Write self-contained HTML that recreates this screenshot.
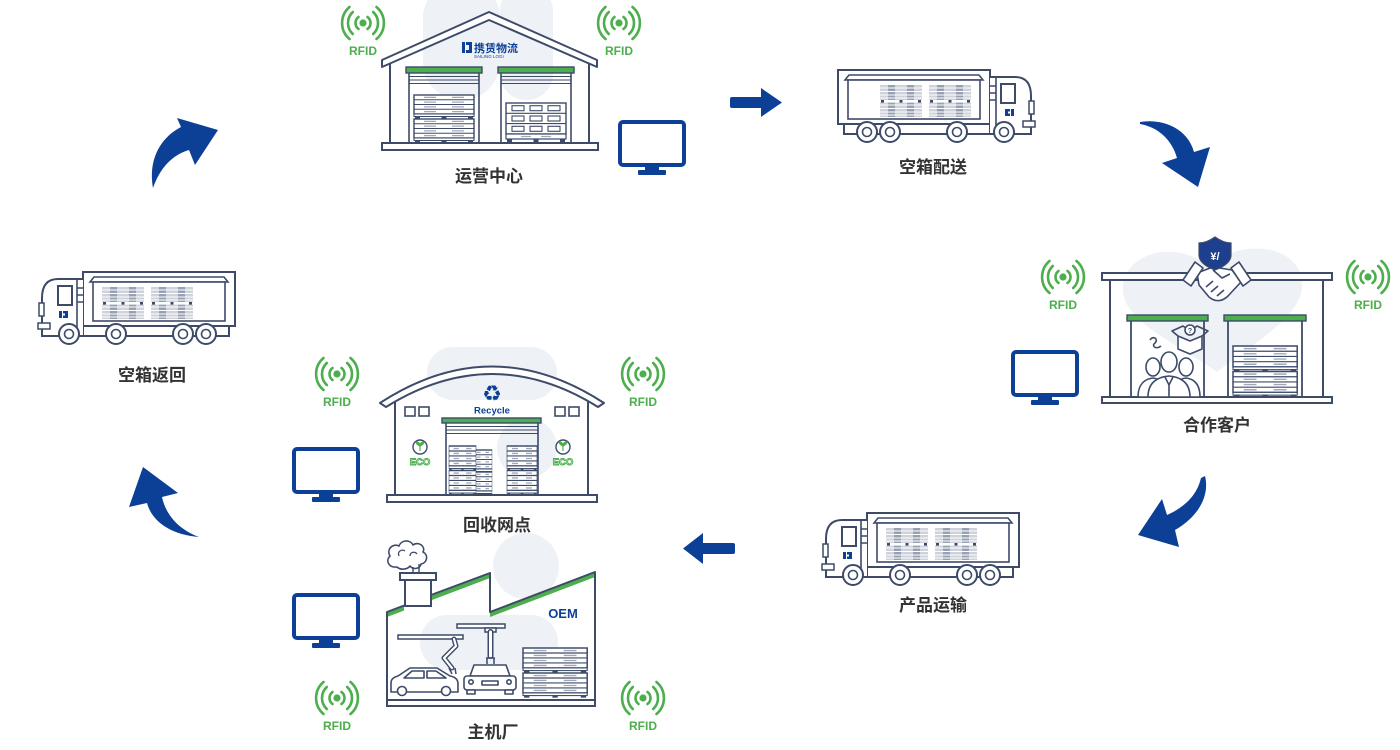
<!DOCTYPE html>
<html><head><meta charset="utf-8">
<style>
html,body{margin:0;padding:0;background:#fff;}
svg{display:block;}
.lbl{font-family:"Liberation Sans","Noto Sans CJK SC",sans-serif;font-weight:bold;font-size:17px;fill:#333;text-anchor:middle;}
.rf{font-family:"Liberation Sans",sans-serif;font-weight:bold;font-size:12px;fill:#4cae4c;text-anchor:middle;}
</style></head><body>
<svg width="1400" height="750" viewBox="0 0 1400 750" xmlns="http://www.w3.org/2000/svg">
<defs>
 <g id="rfid">
   <circle cx="0" cy="0" r="3.6" fill="#4cae4c"/>
   <g fill="none" stroke="#4cae4c" stroke-width="2.6" stroke-linecap="round">
     <path d="M-4.5,-6 A7.5,7.5 0 0 0 -4.5,6"/>
     <path d="M4.5,-6 A7.5,7.5 0 0 1 4.5,6"/>
     <path d="M-10.2,-11 A15,15 0 0 0 -10.2,11"/>
     <path d="M10.2,-11 A15,15 0 0 1 10.2,11"/>
     <path d="M-13.5,-16 A21,21 0 0 0 -13.5,16"/>
     <path d="M13.5,-16 A21,21 0 0 1 13.5,16"/>
   </g>
   <text class="rf" x="0" y="32">RFID</text>
 </g>
 <g id="mon">
   <rect x="2" y="2" width="64" height="43" rx="3" fill="#fff" stroke="#0c3f96" stroke-width="4"/>
   <rect x="27" y="46" width="14" height="5" fill="#0c3f96"/>
   <rect x="20" y="50" width="28" height="5" rx="1" fill="#0c3f96"/>
 </g>
 <g id="tp">
   <rect width="42" height="32" fill="#cdd2db"/>
   <rect x="8" width="7" height="32" fill="#97a0b2"/>
   <rect x="27" width="7" height="32" fill="#97a0b2"/>
   <path d="M0,3H42M0,6.5H42M0,10H42M0,13H42M0,20H42M0,23.5H42M0,27H42M0,30H42" stroke="#fff" stroke-width="1"/>
   <rect y="15" width="42" height="2.6" fill="#fff"/>
   <rect x="1" y="15" width="3" height="2.6" fill="#3d4b69"/>
   <rect x="19.5" y="15" width="3" height="2.6" fill="#3d4b69"/>
   <rect x="38" y="15" width="3" height="2.6" fill="#3d4b69"/>
 </g>
 <g id="truck">
   <rect x="45" y="54" width="146" height="10" fill="#fff" stroke="#3d4b69" stroke-width="2"/>
   <rect x="45" y="0" width="152" height="54" fill="#fff" stroke="#3d4b69" stroke-width="2"/>
   <path d="M52,10 L56,5 L186,5 L190,10 Z" fill="#fff" stroke="#3d4b69" stroke-width="1.6"/>
   <rect x="55" y="10" width="132" height="39" fill="#fff" stroke="#3d4b69" stroke-width="1.6"/>
   <use href="#tp" x="64" y="15"/>
   <use href="#tp" x="113" y="15"/>
   <path d="M45,7 L20,7 Q4,7 4,26 L4,64 L45,64" fill="#fff" stroke="#3d4b69" stroke-width="2"/>
   <line x1="39" y1="7" x2="39" y2="64" stroke="#3d4b69" stroke-width="1.6"/>
   <path d="M39,16H45M39,23H45M39,30H45" stroke="#3d4b69" stroke-width="1.4"/>
   <rect x="20" y="14" width="14" height="19" fill="#fff" stroke="#3d4b69" stroke-width="2"/>
   <rect x="1" y="31" width="5" height="13" fill="#fff" stroke="#3d4b69" stroke-width="1.5"/>
   <rect x="0" y="51" width="12" height="6" fill="#fff" stroke="#3d4b69" stroke-width="1.5"/>
   <g fill="#0c3f96">
     <rect x="21" y="39" width="3" height="7"/><rect x="25" y="39" width="5" height="2.5"/>
     <rect x="25" y="43.5" width="5" height="2.5"/><rect x="27" y="41" width="3" height="3"/>
   </g>
   <g fill="#fff" stroke="#3d4b69" stroke-width="2">
     <circle cx="31" cy="62" r="10"/><circle cx="78" cy="62" r="10"/>
     <circle cx="145" cy="62" r="10"/><circle cx="168" cy="62" r="10"/>
   </g>
   <g fill="#fff" stroke="#3d4b69" stroke-width="1.6">
     <circle cx="31" cy="62" r="4.5"/><circle cx="78" cy="62" r="4.5"/>
     <circle cx="145" cy="62" r="4.5"/><circle cx="168" cy="62" r="4.5"/>
   </g>
 </g>
 <g id="wp">
   <rect x="0" y="0" width="60" height="19" fill="#fff" stroke="#3d4b69" stroke-width="1.4"/>
   <path d="M0,4.75H60M0,9.5H60M0,14.25H60" stroke="#3d4b69" stroke-width="1.1"/>
   <path d="M10,2.4H22M38,2.4H50M10,7.1H22M38,7.1H50M10,11.9H22M38,11.9H50M10,16.6H22M38,16.6H50" stroke="#a0a8b8" stroke-width="1.3"/>
   <rect x="0" y="19" width="60" height="2.5" fill="#fff" stroke="#3d4b69" stroke-width="1"/>
   <rect x="1" y="21" width="5" height="2.5" fill="#3d4b69"/>
   <rect x="27.5" y="21" width="5" height="2.5" fill="#3d4b69"/>
   <rect x="54" y="21" width="5" height="2.5" fill="#3d4b69"/>
 </g>
</defs>

<!-- ================= ARROWS ================= -->
<g fill="#0c3f96">
  <path d="M153,188 C148,160 160,138 181,127 L177,118 L218,130 L195,165 L189,150 C172,155 160,168 153,188 Z"/>
  <rect x="730" y="97" width="35" height="11" rx="2"/>
  <path d="M761,88 L782,102.5 L761,117 Z"/>
  <path d="M1140,122 C1165,118 1188,130 1194,152 L1210,147 L1198,187 L1162,163 L1177,158 C1172,140 1158,127 1140,124 Z"/>
  <path d="M1205,476 C1210,496 1198,517 1175,530 L1179,547 L1138,535 L1162,499 L1167,515 C1185,507 1197,495 1201,478 Z"/>
  <rect x="700" y="543" width="35" height="11" rx="2"/>
  <path d="M703,533 L683,548.5 L703,564 Z"/>
  <path d="M147,503 C152,522 172,535 199,537 C180,530 166,516 162,497 L178,493 L143,467 L129,507 Z"/>
</g>

<!-- ================= TOP WAREHOUSE 运营中心 ================= -->
<rect x="423" y="-20" width="77" height="120" rx="38" fill="#eef1f6"/>
<rect x="500" y="-15" width="53" height="115" rx="26" fill="#eef1f6"/>
<polygon points="382,60 489,12 597,60 597,67 489,20 382,67" fill="#fff" stroke="#3d4b69" stroke-width="2" stroke-linejoin="round"/>
<g stroke="#3d4b69" stroke-width="2">
  <line x1="390" y1="64" x2="390" y2="143"/>
  <line x1="589" y1="64" x2="589" y2="143"/>
</g>
<rect x="382" y="143" width="216" height="7" fill="#fff" stroke="#3d4b69" stroke-width="2"/>
<g fill="#0c3f96">
  <rect x="462" y="42" width="3" height="11"/><rect x="466" y="42" width="6" height="3"/>
  <rect x="466" y="50" width="6" height="3"/><rect x="469" y="45" width="3" height="5"/>
</g>
<text x="474" y="52" font-family="'Noto Sans CJK SC',sans-serif" font-weight="bold" font-size="11" fill="#0c3f96">携赁物流</text>
<text x="474" y="58" font-family="'Liberation Sans',sans-serif" font-size="4.5" fill="#0c3f96">SAILING LOGI</text>
<rect x="406" y="67" width="76" height="6" fill="#4cae4c" stroke="#3d4b69" stroke-width="1.4"/>
<g stroke="#3d4b69" stroke-width="1.6">
  <line x1="409" y1="73" x2="409" y2="143"/><line x1="479" y1="73" x2="479" y2="143"/>
  <line x1="409" y1="76.5" x2="479" y2="76.5" stroke-width="1.1"/>
  <line x1="409" y1="80" x2="479" y2="80" stroke-width="1.1"/>
  <line x1="409" y1="83.5" x2="479" y2="83.5" stroke-width="1.1"/>
</g>
<use href="#wp" x="414" y="95"/>
<use href="#wp" x="414" y="119"/>
<rect x="498" y="67" width="76" height="6" fill="#4cae4c" stroke="#3d4b69" stroke-width="1.4"/>
<g stroke="#3d4b69" stroke-width="1.6">
  <line x1="501" y1="73" x2="501" y2="143"/><line x1="571" y1="73" x2="571" y2="143"/>
  <line x1="501" y1="76.5" x2="571" y2="76.5" stroke-width="1.1"/>
  <line x1="501" y1="80" x2="571" y2="80" stroke-width="1.1"/>
  <line x1="501" y1="83.5" x2="571" y2="83.5" stroke-width="1.1"/>
</g>
<g transform="translate(506,103)" stroke="#3d4b69" fill="#fff">
  <rect x="0" y="0" width="60" height="31" stroke-width="1.4"/>
  <path d="M0,10.3H60M0,20.6H60" stroke-width="1.1"/>
  <g stroke-width="1.1">
    <rect x="6" y="2.7" width="12" height="5"/><rect x="24" y="2.7" width="12" height="5"/><rect x="42" y="2.7" width="12" height="5"/>
    <rect x="6" y="13" width="12" height="5"/><rect x="24" y="13" width="12" height="5"/><rect x="42" y="13" width="12" height="5"/>
    <rect x="6" y="23.3" width="12" height="5"/><rect x="24" y="23.3" width="12" height="5"/><rect x="42" y="23.3" width="12" height="5"/>
  </g>
  <rect x="0" y="31" width="60" height="5" stroke-width="1.2"/>
  <path d="M15,33.5H25M35,33.5H45" stroke="#a0a8b8" stroke-width="1.2"/>
  <rect x="1" y="36" width="5" height="3" fill="#3d4b69" stroke="none"/>
  <rect x="27.5" y="36" width="5" height="3" fill="#3d4b69" stroke="none"/>
  <rect x="54" y="36" width="5" height="3" fill="#3d4b69" stroke="none"/>
</g>
<use href="#rfid" x="363" y="23"/>
<use href="#rfid" x="619" y="23"/>
<use href="#mon" x="618" y="120"/>
<text class="lbl" x="489" y="182">运营中心</text>

<!-- ================= TRUCKS ================= -->
<use href="#truck" transform="translate(1035,70) scale(-1,1)"/>
<text class="lbl" x="933" y="173">空箱配送</text>
<use href="#truck" transform="translate(822,513)"/>
<text class="lbl" x="933" y="611">产品运输</text>
<use href="#truck" transform="translate(38,272)"/>
<text class="lbl" x="152" y="381">空箱返回</text>

<!-- ================= CUSTOMER 合作客户 ================= -->
<path d="M1217,372 C1180,345 1118,320 1123,285 C1128,250 1180,240 1210,268 C1235,238 1297,243 1302,280 C1307,315 1250,345 1217,372 Z" fill="#eef1f6"/>
<rect x="1102" y="273" width="230" height="7" fill="#fff" stroke="#3d4b69" stroke-width="2"/>
<g stroke="#3d4b69" stroke-width="2">
  <line x1="1110" y1="280" x2="1110" y2="397"/>
  <line x1="1323" y1="280" x2="1323" y2="397"/>
</g>
<rect x="1102" y="397" width="230" height="6" fill="#fff" stroke="#3d4b69" stroke-width="2"/>
<rect x="1127" y="315" width="81" height="6" fill="#4cae4c" stroke="#3d4b69" stroke-width="1.4"/>
<rect x="1224" y="315" width="82" height="6" fill="#4cae4c" stroke="#3d4b69" stroke-width="1.4"/>
<g stroke="#3d4b69" stroke-width="1.8">
  <line x1="1131" y1="321" x2="1131" y2="397"/><line x1="1204" y1="321" x2="1204" y2="397"/>
  <line x1="1228" y1="321" x2="1228" y2="397"/><line x1="1302" y1="321" x2="1302" y2="397"/>
</g>
<use href="#wp" transform="translate(1233,346) scale(1.07,1.1)"/>
<use href="#wp" transform="translate(1233,371.5) scale(1.07,1.1)"/>
<g stroke="#3d4b69" stroke-width="1.6" fill="#fff" stroke-linejoin="round">
  <path d="M1138,397 C1138,384 1145,379 1153,378 C1161,379 1166,384 1166,397 Z"/>
  <ellipse cx="1153" cy="367" rx="7" ry="9"/>
  <path d="M1172,397 C1172,384 1178,379 1186,378 C1194,379 1200,384 1200,397 Z"/>
  <ellipse cx="1186" cy="367" rx="7" ry="9"/>
  <path d="M1148,397 C1148,382 1158,377 1169,376 C1180,377 1190,382 1190,397 Z"/>
  <ellipse cx="1169" cy="362" rx="8" ry="10"/>
  <path d="M1165,377 L1169,385 L1173,377 M1169,385 L1169,397" fill="none"/>
  <path d="M1178,336 L1178,349 L1190,354 L1202,349 L1202,336 L1190,341 Z"/>
  <path d="M1178,336 L1172,331 L1183,326 L1190,331 L1197,326 L1208,331 L1202,336" fill="none"/>
  <circle cx="1190" cy="330" r="5"/>
  <path d="M1150,340 c3,-5 9,-1 5,3 c-4,3 1,7 6,3" fill="none"/>
</g>
<text x="1190" y="333" font-family="'Liberation Sans',sans-serif" font-size="7" font-weight="bold" fill="#3d4b69" text-anchor="middle">?</text>
<g stroke="#3d4b69" stroke-width="1.6" fill="#fff" stroke-linejoin="round">
  <path d="M1197,273 L1213,267 L1232,270 L1241,282 L1228,296 C1222,302 1215,302 1209,297 L1199,285 Z"/>
  <path d="M1206,287 L1213,281 M1211,292 L1218,286 M1217,296 L1224,290 M1213,270 L1222,278 L1230,274" fill="none"/>
  <polygon points="1183,280 1195,262 1203,268 1191,286"/>
  <polygon points="1251,280 1239,262 1231,268 1243,286"/>
</g>
<path d="M1215,237 C1208,242 1203,243 1199,243 L1199,255 C1199,262 1207,267 1215,270 C1223,267 1231,262 1231,255 L1231,243 C1227,243 1222,242 1215,237 Z" fill="#1e3f8e" stroke="#3d4b69" stroke-width="1.2"/>
<text x="1215" y="260" font-family="'Liberation Sans',sans-serif" font-weight="bold" font-size="11" fill="#fff" text-anchor="middle">¥/</text>
<use href="#rfid" x="1063" y="277"/>
<use href="#rfid" x="1368" y="277"/>
<use href="#mon" x="1011" y="350"/>
<text class="lbl" x="1217" y="431">合作客户</text>

<!-- ================= RECYCLE 回收网点 ================= -->
<rect x="427" y="347" width="130" height="53" rx="26" fill="#eef1f6"/>
<circle cx="527" cy="448" r="30" fill="#eef1f6"/>
<path d="M380,403 Q492,330 604,403 L598,407 Q492,341 386,407 Z" fill="#fff" stroke="#3d4b69" stroke-width="2" stroke-linejoin="round"/>
<g stroke="#3d4b69" stroke-width="2">
  <line x1="395" y1="402" x2="395" y2="495"/>
  <line x1="588" y1="402" x2="588" y2="495"/>
</g>
<rect x="387" y="495" width="210" height="7" fill="#fff" stroke="#3d4b69" stroke-width="2"/>
<g fill="#fff" stroke="#3d4b69" stroke-width="1.6">
  <rect x="405" y="407" width="10" height="9"/><rect x="419" y="407" width="10" height="9"/>
  <rect x="555" y="407" width="10" height="9"/><rect x="569" y="407" width="10" height="9"/>
</g>
<text x="492" y="401" font-family="'DejaVu Sans',sans-serif" font-size="22" fill="#0c3f96" text-anchor="middle">♻</text>
<text x="492" y="413.5" font-family="'Liberation Sans',sans-serif" font-weight="bold" font-size="9.5" fill="#0c3f96" text-anchor="middle">Recycle</text>
<rect x="442" y="418" width="99" height="5" fill="#4cae4c" stroke="#3d4b69" stroke-width="1.4"/>
<g stroke="#3d4b69" stroke-width="1.6">
  <line x1="446" y1="423" x2="446" y2="495"/><line x1="538" y1="423" x2="538" y2="495"/>
  <line x1="446" y1="426.5" x2="538" y2="426.5" stroke-width="1.1"/>
  <line x1="446" y1="430" x2="538" y2="430" stroke-width="1.1"/>
  <line x1="446" y1="433.5" x2="538" y2="433.5" stroke-width="1.1"/>
</g>
<use href="#wp" transform="translate(474,450) scale(0.3,1.0)"/>
<use href="#wp" transform="translate(474,472) scale(0.3,1.0)"/>
<use href="#wp" transform="translate(449,446) scale(0.45,1.05)"/>
<use href="#wp" transform="translate(449,470.5) scale(0.45,1.05)"/>
<use href="#wp" transform="translate(507,446) scale(0.5,1.05)"/>
<use href="#wp" transform="translate(507,470.5) scale(0.5,1.05)"/>
<g>
  <circle cx="420" cy="447" r="7" fill="#fff" stroke="#3d4b69" stroke-width="1.4"/>
  <path d="M420,451 L420,444 M420,446 q-4,-2 -4,-4 q4,0 4,4 M420,446 q4,-2 4,-4 q-4,0 -4,4" stroke="#4cae4c" stroke-width="1.2" fill="#4cae4c"/>
  <text x="420" y="465" font-family="'Liberation Sans',sans-serif" font-weight="bold" font-size="9.5" fill="#fff" stroke="#4cae4c" stroke-width="0.9" text-anchor="middle">ECO</text>
  <circle cx="563" cy="447" r="7" fill="#fff" stroke="#3d4b69" stroke-width="1.4"/>
  <path d="M563,451 L563,444 M563,446 q-4,-2 -4,-4 q4,0 4,4 M563,446 q4,-2 4,-4 q-4,0 -4,4" stroke="#4cae4c" stroke-width="1.2" fill="#4cae4c"/>
  <text x="563" y="465" font-family="'Liberation Sans',sans-serif" font-weight="bold" font-size="9.5" fill="#fff" stroke="#4cae4c" stroke-width="0.9" text-anchor="middle">ECO</text>
</g>
<use href="#rfid" x="337" y="374"/>
<use href="#rfid" x="643" y="374"/>
<use href="#mon" x="292" y="447"/>
<text class="lbl" x="497" y="531">回收网点</text>

<!-- ================= FACTORY 主机厂 ================= -->
<circle cx="526" cy="566" r="33" fill="#eef1f6"/>
<rect x="420" y="615" width="138" height="55" rx="27" fill="#eef1f6"/>
<g fill="#4cae4c">
  <polygon points="387,612 404,605.5 404,610.5 387,617"/>
  <polygon points="432,595 490,573 490,578 432,600"/>
  <polygon points="490,612 595,572 595,577 490,617"/>
</g>
<path d="M387,700 L387,612 L404,605.5 M431,595 L490,573 L490,612 L595,572 L595,700" fill="none" stroke="#3d4b69" stroke-width="2" stroke-linejoin="round"/>
<rect x="405" y="580" width="26" height="26" fill="#fff" stroke="#3d4b69" stroke-width="2"/>
<rect x="400" y="573" width="36" height="7" fill="#fff" stroke="#3d4b69" stroke-width="2"/>
<!-- smoke cloud -->
<path d="M397,567 C389,568 385,561 390,556 C386,549 393,543 399,546 C401,540 410,539 413,545 C418,541 426,546 423,552 C429,555 427,563 421,564 C420,569 413,570 410,566 C407,570 400,570 397,567 Z" fill="#fff" stroke="#3d4b69" stroke-width="1.6" stroke-linejoin="round"/>
<path d="M399,556 C397,551 402,549 405,551 M410,556 C410,552 415,551 417,554" fill="none" stroke="#3d4b69" stroke-width="1.3"/>
<path d="M413,567 L413,573 M419,564 L419,573" stroke="#3d4b69" stroke-width="1.4"/>
<text x="563" y="618" font-family="'Liberation Sans',sans-serif" font-weight="bold" font-size="13" fill="#0c3f96" text-anchor="middle">OEM</text>
<rect x="387" y="700" width="208" height="6" fill="#fff" stroke="#3d4b69" stroke-width="2"/>
<rect x="398" y="635" width="65" height="4" fill="#fff" stroke="#3d4b69" stroke-width="1.5"/>
<polyline points="454,639 456,646 444,658 452,668" fill="none" stroke="#3d4b69" stroke-width="5" stroke-linecap="round" stroke-linejoin="round"/>
<polyline points="454,639 456,646 444,658 452,668" fill="none" stroke="#fff" stroke-width="2.2" stroke-linecap="round" stroke-linejoin="round"/>
<path d="M449,668 L452,674 M455,668 L456,674" stroke="#3d4b69" stroke-width="1.5"/>
<rect x="457" y="624" width="48" height="4" fill="#fff" stroke="#3d4b69" stroke-width="1.5"/>
<rect x="485" y="628" width="11" height="4" fill="#fff" stroke="#3d4b69" stroke-width="1.5"/>
<line x1="490.5" y1="632" x2="490.5" y2="656" stroke="#3d4b69" stroke-width="6" stroke-linecap="round"/>
<line x1="490.5" y1="632" x2="490.5" y2="656" stroke="#fff" stroke-width="3" stroke-linecap="round"/>
<path d="M487,658 L487,664 M494,658 L494,664 M486,658 L495,658" stroke="#3d4b69" stroke-width="1.5" fill="none"/>
<g fill="#fff" stroke="#3d4b69" stroke-width="1.6" stroke-linejoin="round">
  <path d="M391,692 L391,683 C391,679 394,677 398,676 L410,668 L437,668 L450,676 C456,677 458,680 458,684 L458,692 Z"/>
  <path d="M412,671 L424,671 L424,678 L404,678 Z"/>
  <path d="M427,671 L436,671 L446,678 L427,678 Z"/>
  <circle cx="402" cy="691" r="4.5"/><circle cx="446" cy="691" r="4.5"/>
  <path d="M470,676 L474,665 L506,665 L510,676 Z"/>
  <rect x="464" y="676" width="52" height="14" rx="3"/>
  <rect x="467" y="690" width="8" height="4"/><rect x="505" y="690" width="8" height="4"/>
  <rect x="482" y="681" width="16" height="4"/>
  <circle cx="471" cy="682" r="2.2"/><circle cx="509" cy="682" r="2.2"/>
</g>
<use href="#wp" transform="translate(523,648) scale(1.07,1.05)"/>
<use href="#wp" transform="translate(523,673) scale(1.07,1.05)"/>
<use href="#rfid" x="337" y="698"/>
<use href="#rfid" x="643" y="698"/>
<use href="#mon" x="292" y="593"/>
<text class="lbl" x="493" y="738">主机厂</text>
</svg>
</body></html>
